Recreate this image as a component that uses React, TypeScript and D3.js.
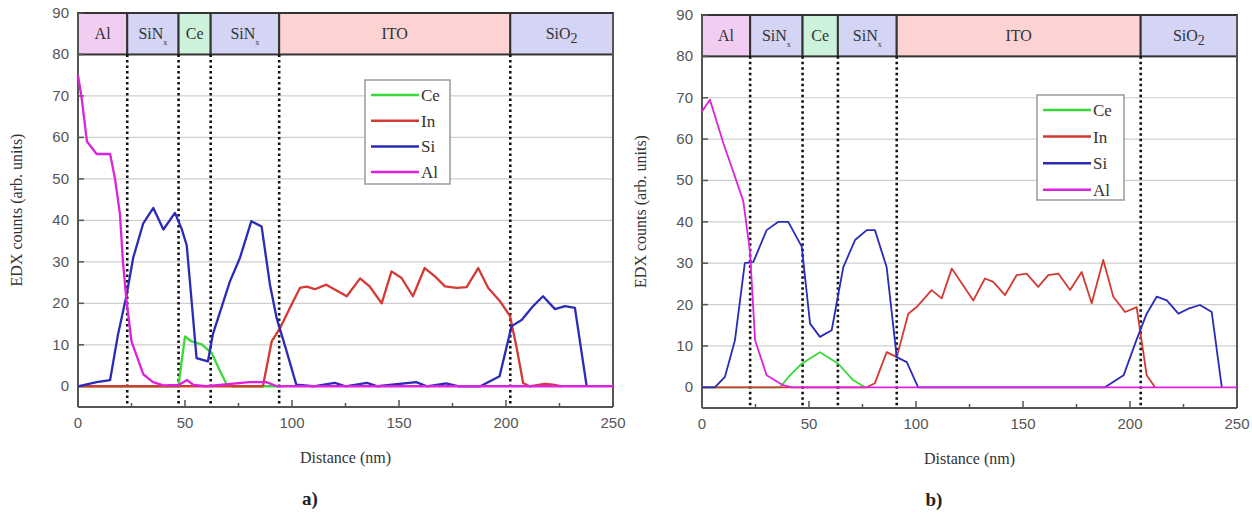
import React from 'react';
import * as d3 from 'd3';

// ---- panel a) ----
const alDistA = [0, 1.7, 4.2, 8.7, 15, 17.3, 19.6, 21, 22.7, 25, 30.5, 35, 40, 47, 51, 54, 60, 80, 88, 93, 250];
const alValA = [75, 69.5, 59, 56, 56, 50, 41.5, 30, 20.5, 10.8, 2.9, 1, 0.2, 0.3, 1.5, 0.3, 0, 1, 1, 0, 0];
const siDistA = [0, 8.7, 15, 18.7, 22.7, 25.8, 30.5, 35.2, 39.9, 45.3, 48.4, 50.8, 53.1, 55.4, 60.7, 63, 71, 75.7, 81, 85.8, 89.7, 92.8, 97.5, 102, 110, 120, 125, 135, 140, 158, 163, 172, 178, 188, 197, 202.6, 207.3, 212.6, 217.3, 222.9, 227.6, 232.2, 237.7];
const siValA = [0, 1, 1.5, 12.5, 22, 31, 39.3, 43, 37.8, 41.8, 38, 34, 20.5, 6.8, 6, 12.5, 25.3, 31, 39.8, 38.5, 24.5, 16.5, 8.4, 0.4, 0, 0.8, 0, 0.8, 0, 1, 0, 0.7, 0, 0, 2.4, 14.5, 16, 19.3, 21.7, 18.6, 19.3, 18.9, 0];
const inDistA = [0, 86.4, 90.5, 94.4, 99, 103.7, 106.8, 110.7, 116, 125.6, 131.8, 136.4, 141.9, 146.5, 151.2, 156.5, 162, 166.8, 171.5, 176.9, 181.6, 187, 191.7, 197.2, 201.9, 205, 208, 211, 218, 222, 226];
const inValA = [0, 0, 10.8, 14, 18.9, 23.7, 24, 23.4, 24.5, 21.7, 26, 24, 20, 27.7, 26.1, 21.7, 28.5, 26.5, 24.1, 23.7, 23.9, 28.5, 23.7, 20.5, 16.9, 9.2, 0.8, 0, 0.6, 0.4, 0];
const ceDistA = [0, 46.9, 50, 53.1, 57.8, 62.5, 66.4, 69.5, 72, 95];
const ceValA = [0, 0, 12, 10.8, 10.1, 8, 3.6, 0.4, 0, 0];
const bordersA = [0, 23, 47, 62, 94, 202, 250];

// ---- panel b) ----
const alDistB = [0, 3.7, 10, 15, 19.3, 22.4, 24.8, 30.2, 37.9, 42, 250];
const alValB = [66.7, 69.5, 59, 51.5, 45, 33, 11.4, 2.9, 0.5, 0, 0];
const siDistB = [0, 6, 10.7, 15.4, 20, 24, 30.2, 35.7, 40.3, 46.6, 50.5, 55.1, 60.6, 66, 71.5, 77, 80.8, 86.3, 91, 95.7, 101, 188.3, 197, 203, 207.8, 212.5, 217.2, 222.6, 227.3, 232.7, 238.2, 242.9];
const siValB = [0, 0, 2.5, 11.4, 30, 30.3, 38, 40, 40, 34, 15.4, 12.2, 13.8, 29, 35.6, 38, 38, 29, 7.3, 6.1, 0, 0, 2.9, 11.4, 17.8, 21.9, 21, 17.8, 19, 19.9, 18.2, 0];
const inDistB = [0, 77, 80.8, 86.3, 91, 96.4, 100.3, 107.3, 112, 116.7, 126.8, 132.2, 136.1, 141.6, 147, 151.7, 157.1, 161.8, 166.5, 172, 177.4, 182.1, 187.5, 192.2, 197.7, 203.1, 207.8, 211.7];
const inValB = [0, 0, 1, 8.5, 7.3, 17.8, 19.4, 23.5, 21.5, 28.7, 21, 26.3, 25.5, 22.3, 27.1, 27.5, 24.3, 27.1, 27.5, 23.5, 27.9, 20.3, 30.8, 21.9, 18.2, 19.4, 2.9, 0];
const ceDistB = [0, 36.4, 41.1, 46.6, 55.1, 63.7, 70.7, 76.2];
const ceValB = [0, 0, 2.9, 5.7, 8.5, 5.7, 1.7, 0];
const bordersB = [0, 22.5, 47, 63.5, 91, 205, 250];

const layerNames = ['Al', 'SiN|x', 'Ce', 'SiN|x', 'ITO', 'SiO|2'];
const layerFills = ['#f2cdf2', '#d4d4f4', '#cdf2dc', '#d4d4f4', '#fcd2d2', '#d4d4f6'];
const legendNames = ['Ce', 'In', 'Si', 'Al'];
const colors = { Ce: '#3ad83a', In: '#d43a34', Si: '#2b2bb8', Al: '#dd22dd' };
const yTicks = [0, 10, 20, 30, 40, 50, 60, 70, 80, 90];
const xTicks = [0, 50, 100, 150, 200, 250];
const xMinor = [25, 75, 125, 175, 225];

type Series = { name: string; dist: number[]; val: number[] };

function Panel(props: {
  x0: number; x1: number; yTop: number; yBot: number;
  series: Series[]; borders: number[]; lw: number; titleX: number;
  legend: { x: number; y: number; w: number; h: number; step: number };
  tag: string;
}) {
  const { x0, x1, yTop, yBot, series, borders, lw, titleX, legend, tag } = props;
  const x = d3.scaleLinear().domain([0, 250]).range([x0, x1]);
  const y = d3.scaleLinear().domain([-5, 90]).range([yBot, yTop]);
  const serif = 'Liberation Serif, Times New Roman, serif';
  const sans = 'Liberation Sans, Arial, sans-serif';
  const line = (s: Series) =>
    d3.line<number>().x((d) => x(d)).y((_, i) => y(s.val[i]))(s.dist) || '';
  const midY = (y(90) + y(80)) / 2;
  return (
    <g>
      {/* grid */}
      {yTicks.filter((t) => t > 0 && t < 80).map((t) => (
        <line key={t} x1={x0} x2={x1} y1={y(t)} y2={y(t)} stroke="#cfcfcf" strokeWidth={1.2} />
      ))}
      {/* layer band */}
      {layerNames.map((n, i) => {
        const [base, sub] = n.split('|');
        const cx = (x(borders[i]) + x(borders[i + 1])) / 2;
        return (
          <g key={i}>
            <rect x={x(borders[i])} y={y(90)} width={x(borders[i + 1]) - x(borders[i])} height={y(80) - y(90)}
              fill={layerFills[i]} stroke="#333" strokeWidth={2} />
            <text x={cx} y={midY + 5} textAnchor="middle" fontFamily={serif} fontSize={16} fill="#333">
              {base}
              {sub && <tspan fontSize={sub === '2' ? 14 : 8} dy={sub === '2' ? 4 : 6}>{sub}</tspan>}
            </text>
          </g>
        );
      })}
      {/* dotted layer borders */}
      {borders.slice(1, -1).map((b, i) => (
        <line key={i} x1={x(b)} x2={x(b)} y1={y(80)} y2={yBot} stroke="#111" strokeWidth={2.6} strokeDasharray="2.5,3" />
      ))}
      {/* frame */}
      <line x1={x0} x2={x0} y1={y(90)} y2={yBot} stroke="#555" strokeWidth={2} />
      <line x1={x1} x2={x1} y1={y(90)} y2={yBot} stroke="#555" strokeWidth={2} />
      <line x1={x0} x2={x1} y1={yBot} y2={yBot} stroke="#555" strokeWidth={2} />
      {/* ticks */}
      {yTicks.map((t) => (
        <g key={t}>
          <line x1={x0} x2={x0 + 6} y1={y(t)} y2={y(t)} stroke="#555" strokeWidth={1.5} />
          <text x={x0 - 9} y={y(t) + 5} textAnchor="end" fontFamily={sans} fontSize={15} fill="#555">{t}</text>
        </g>
      ))}
      {xTicks.map((t) => (
        <g key={t}>
          <line x1={x(t)} x2={x(t)} y1={yBot} y2={yBot - 7} stroke="#555" strokeWidth={1.5} />
          <text x={x(t)} y={yBot + 21} textAnchor="middle" fontFamily={sans} fontSize={15} fill="#555">{t}</text>
        </g>
      ))}
      {xMinor.map((t) => (
        <line key={t} x1={x(t)} x2={x(t)} y1={yBot} y2={yBot - 4} stroke="#555" strokeWidth={1.5} />
      ))}
      {/* data */}
      {series.map((s) => (
        <path key={s.name} d={line(s)} fill="none" stroke={(colors as any)[s.name]} strokeWidth={lw} strokeLinejoin="round" />
      ))}
      {/* legend */}
      <rect x={legend.x} y={legend.y} width={legend.w} height={legend.h} fill="#fff" stroke="#999" strokeWidth={1.5} />
      {legendNames.map((n, i) => {
        const ly = legend.y + 15 + i * legend.step;
        return (
          <g key={n}>
            <line x1={legend.x + 6} x2={legend.x + 54} y1={ly} y2={ly} stroke={(colors as any)[n]} strokeWidth={2.5} />
            <text x={legend.x + 56} y={ly + 6} fontFamily={serif} fontSize={17} fill="#333">{n}</text>
          </g>
        );
      })}
      {/* titles */}
      <text transform={`translate(${titleX},${(yTop + yBot) / 2}) rotate(-90)`} textAnchor="middle"
        fontFamily={serif} fontSize={16} fill="#333">EDX counts (arb. units)</text>
      <text x={(x0 + x1) / 2} y={yBot + 56} textAnchor="middle" fontFamily={serif} fontSize={16} fill="#333">Distance (nm)</text>
      <text x={x(0) + 232} y={yBot + 98} textAnchor="middle" fontFamily={serif} fontSize={19} fontWeight="bold" fill="#222">{tag}</text>
    </g>
  );
}

export default function App() {
  const seriesA: Series[] = [
    { name: 'Ce', dist: ceDistA, val: ceValA },
    { name: 'In', dist: inDistA, val: inValA },
    { name: 'Si', dist: siDistA, val: siValA },
    { name: 'Al', dist: alDistA, val: alValA },
  ];
  const seriesB: Series[] = [
    { name: 'Ce', dist: ceDistB, val: ceValB },
    { name: 'In', dist: inDistB, val: inValB },
    { name: 'Si', dist: siDistB, val: siValB },
    { name: 'Al', dist: alDistB, val: alValB },
  ];
  return (
    <svg width={1252} height={518} style={{ position: 'absolute', left: 0, top: 0, background: '#fff' }}>
      <Panel x0={78} x1={613} yTop={13} yBot={407} series={seriesA} borders={bordersA} lw={2.3} titleX={22}
        legend={{ x: 365, y: 80, w: 85, h: 104, step: 25.7 }} tag="a)" />
      <Panel x0={702} x1={1237} yTop={15} yBot={408} series={seriesB} borders={bordersB} lw={1.8} titleX={646}
        legend={{ x: 1037, y: 95, w: 87, h: 105, step: 26.6 }} tag="b)" />
    </svg>
  );
}
